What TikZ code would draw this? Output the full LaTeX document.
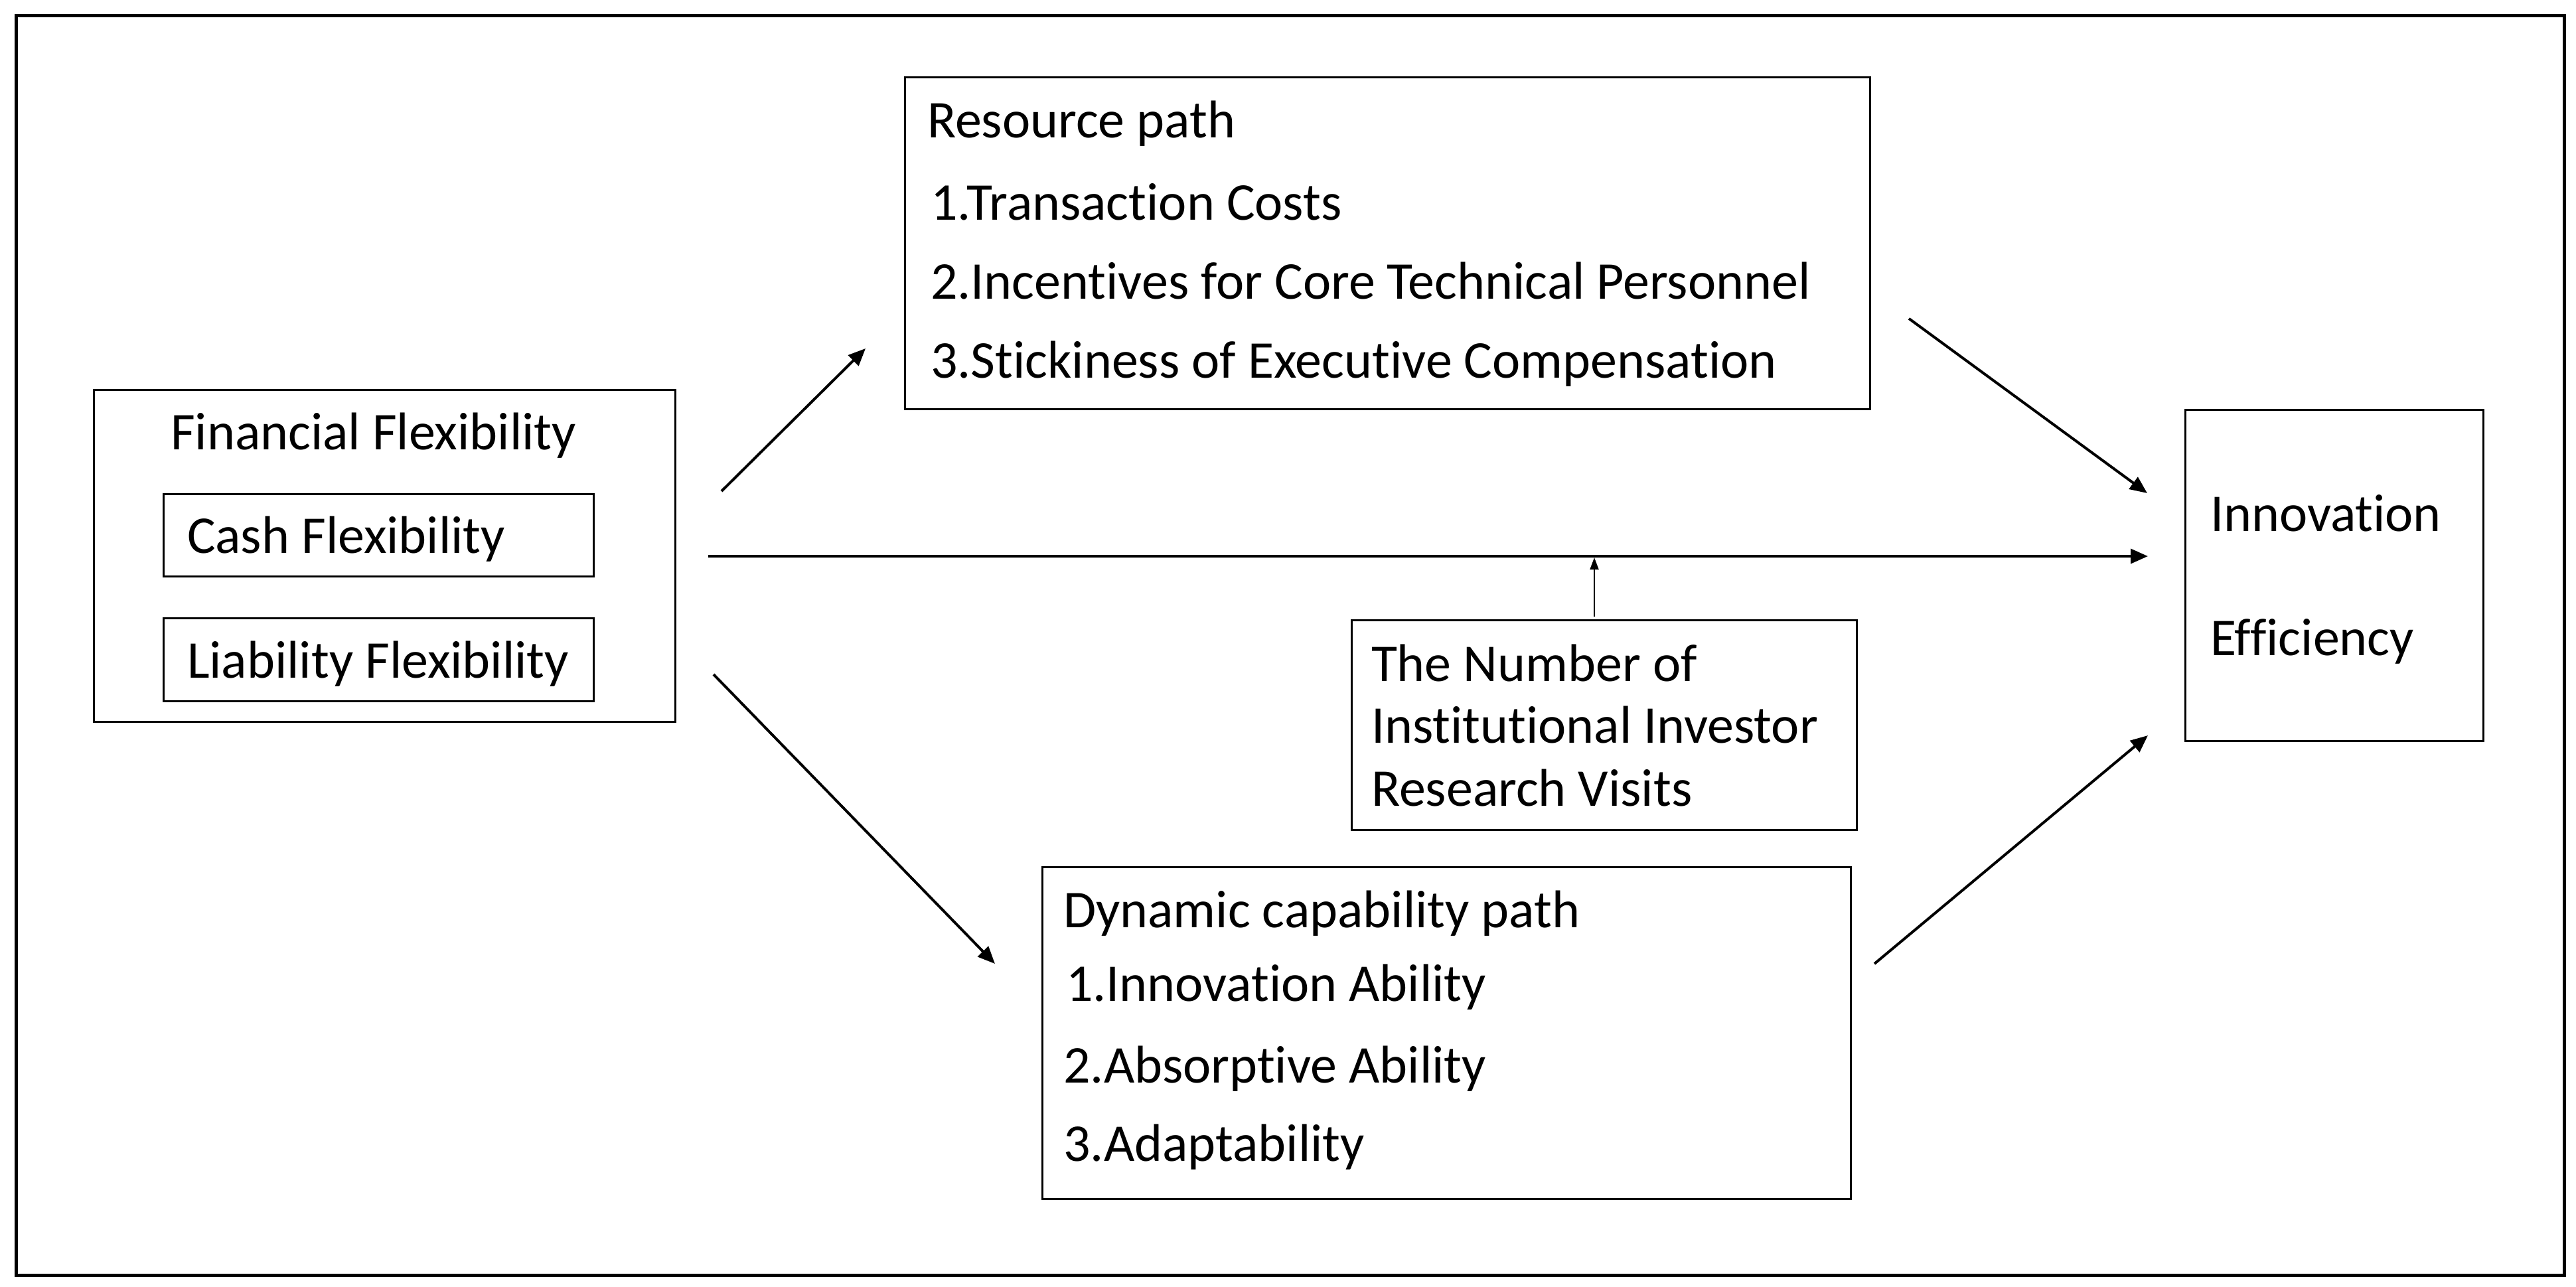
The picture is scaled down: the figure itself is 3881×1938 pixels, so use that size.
\documentclass[tikz,border=0pt]{standalone}
\usepackage{fontspec}
\setmainfont[Ligatures={NoCommon,NoDiscretionary}]{Carlito}
\usetikzlibrary{arrows.meta}
\tikzset{
  box/.style={draw=black, line width=3pt, anchor=north west, inner sep=0pt, outer sep=0pt},
  lbl/.style={anchor=base west, inner sep=0pt, outer sep=0pt, font=\fontsize{80}{92}\selectfont},
  conn/.style={line width=4pt, -{Triangle[length=26pt, width=22pt]}},
  thinconn/.style={line width=2pt, -{Triangle[length=18pt, width=13pt]}}
}
\begin{document}
\begin{tikzpicture}[x=1pt,y=-1pt]
\useasboundingbox (0,0) rectangle (3881,1938);
\node[draw=black, line width=5pt, anchor=north west, inner sep=0pt, minimum width=3839pt, minimum height=1898pt] (frame) at (22,21) {};
% Financial flexibility
\node[box, minimum width=876pt, minimum height=500pt] (fin) at (141,587) {};
\node[lbl] (finT) at (257,677) {Financial Flexibility};
\node[box, minimum width=648pt, minimum height=124pt] (cash) at (246,744) {};
\node[lbl] (cashT) at (282,833) {Cash Flexibility};
\node[box, minimum width=648pt, minimum height=125pt] (liab) at (246,931) {};
\node[lbl] (liabT) at (282,1021) {Liability Flexibility};
% Resource path
\node[box, minimum width=1454pt, minimum height=500pt] (res) at (1363,116) {};
\node[lbl] (resT) at (1397,207) {Resource path};
\node[lbl] (res1) at (1402,331) {1.Transaction Costs};
\node[lbl] (res2) at (1402,450) {2.Incentives for Core Technical Personnel};
\node[lbl] (res3) at (1402,569) {3.Stickiness of Executive Compensation};
% Innovation efficiency
\node[box, minimum width=449pt, minimum height=499pt] (inn) at (3292,617) {};
\node[lbl] (innT1) at (3330,800) {Innovation};
\node[lbl] (innT2) at (3330,987) {Efficiency};
% Institutional investor
\node[box, minimum width=761pt, minimum height=316pt] (inst) at (2036,934) {};
\node[lbl] (inst1) at (2066,1026) {The Number of};
\node[lbl] (inst2) at (2066,1119) {Institutional Investor};
\node[lbl] (inst3) at (2066,1214) {Research Visits};
% Dynamic capability path
\node[box, minimum width=1218pt, minimum height=500pt] (dyn) at (1570,1306) {};
\node[lbl] (dynT) at (1602,1397) {Dynamic capability path};
\node[lbl] (dyn1) at (1606,1508) {1.Innovation Ability};
\node[lbl] (dyn2) at (1602,1631) {2.Absorptive Ability};
\node[lbl] (dyn3) at (1602,1749) {3.Adaptability};
% connector end points
\coordinate (finA) at (1087,740);
\coordinate (resIn) at (1304,525);
\coordinate (finB) at (1067,838);
\coordinate (innB) at (3236,838);
\coordinate (finC) at (1075,1016);
\coordinate (dynIn) at (1499,1452);
\coordinate (resOut) at (2876,480);
\coordinate (innA) at (3235,743);
\coordinate (dynOut) at (2824,1452);
\coordinate (innC) at (3236,1108);
\coordinate (instOut) at (2402,929);
\coordinate (midPt) at (2402,840);
\draw[conn] (finA) -- (resIn);
\draw[conn] (finB) -- (innB);
\draw[conn] (finC) -- (dynIn);
\draw[conn] (resOut) -- (innA);
\draw[conn] (dynOut) -- (innC);
\draw[thinconn] (instOut) -- (midPt);
\end{tikzpicture}
\end{document}
